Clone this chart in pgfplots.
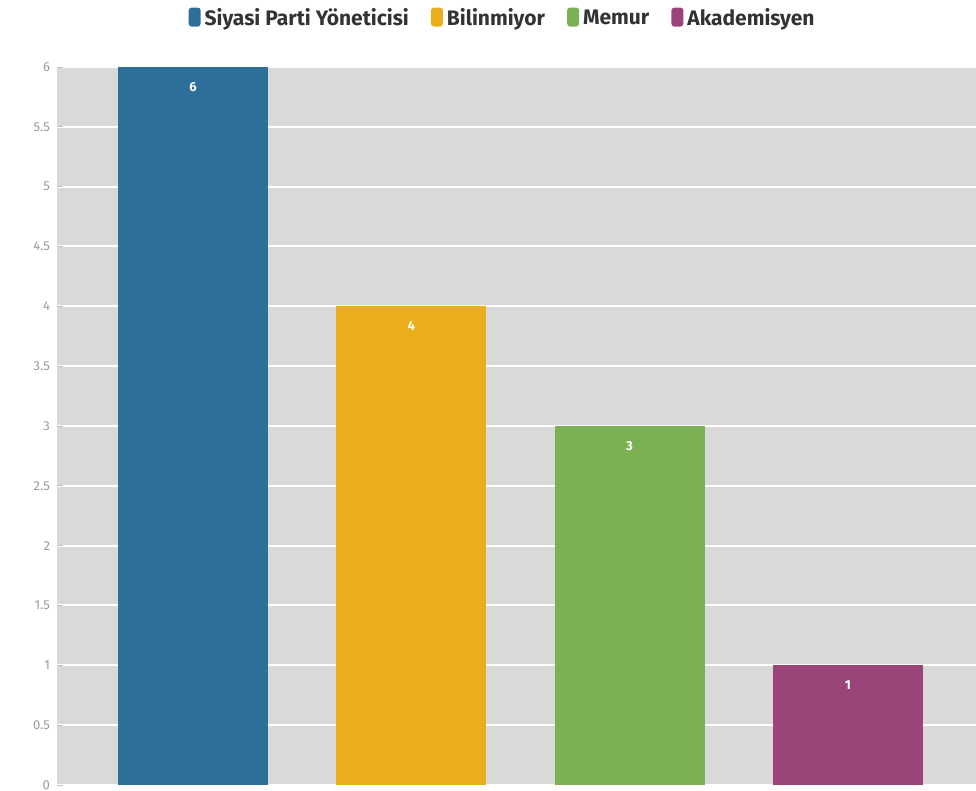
\documentclass[border=0pt]{standalone}
\usepackage{pgfplots}
\pgfplotsset{compat=1.18}
\usepackage{fontspec}
\setmainfont{Fira Sans}
\definecolor{cblue}{HTML}{2E6F9A}
\definecolor{cyellow}{HTML}{EAAE1D}
\definecolor{cgreen}{HTML}{7BB152}
\definecolor{cpurple}{HTML}{9B4477}
\definecolor{bgray}{HTML}{D9D9D9}
\definecolor{tgray}{HTML}{9A9A9A}
\begin{document}
\begin{tikzpicture}
\begin{axis}[
  scale only axis,
  width=459.5pt, height=359pt,
  xmin=-0.623, xmax=3.587,
  ymin=0, ymax=6,
  ytick distance=0.5,
  xtick=\empty,
  axis line style={draw=none},
  axis background/.style={fill=bgray},
  ymajorgrids,
  grid style={white, line width=1pt},
  major tick length=3pt,
  tick style={tgray!60, line width=0.4pt},
  ytick pos=left,
  /pgf/number format/assume math mode=true,
  yticklabel style={font=\fontsize{6.5}{7}\selectfont, text=tgray},
  ybar, bar width=0.687, bar shift=0pt,
  nodes near coords,
  every node near coord/.append style={anchor=north, yshift=-4pt, text=white, font=\bfseries\fontsize{6.5}{7}\selectfont},
  legend columns=-1,
  legend style={draw=none, fill=none, at={(0.486,1)}, anchor=south, yshift=15pt,
    font=\bfseries\fontsize{10.5}{12}\selectfont, text=black!80,
    /tikz/every even column/.append style={column sep=9pt}},
  legend image code/.code={\fill[#1, rounded corners=1.5pt] (0pt,-4pt) rectangle (6pt,5.5pt);},
]
\addplot[fill=cblue, draw=none] coordinates {(0,6)};
\addplot[fill=cyellow, draw=none] coordinates {(1,4)};
\addplot[fill=cgreen, draw=none] coordinates {(2,3)};
\addplot[fill=cpurple, draw=none] coordinates {(3,1)};
\legend{Siyasi Parti Yöneticisi, Bilinmiyor, Memur, Akademisyen}
\end{axis}
\pgfresetboundingbox
\path (current axis.south west) ++(-28.5pt,-3pt) rectangle ([yshift=33.5pt]current axis.north east);
\end{tikzpicture}
\end{document}
